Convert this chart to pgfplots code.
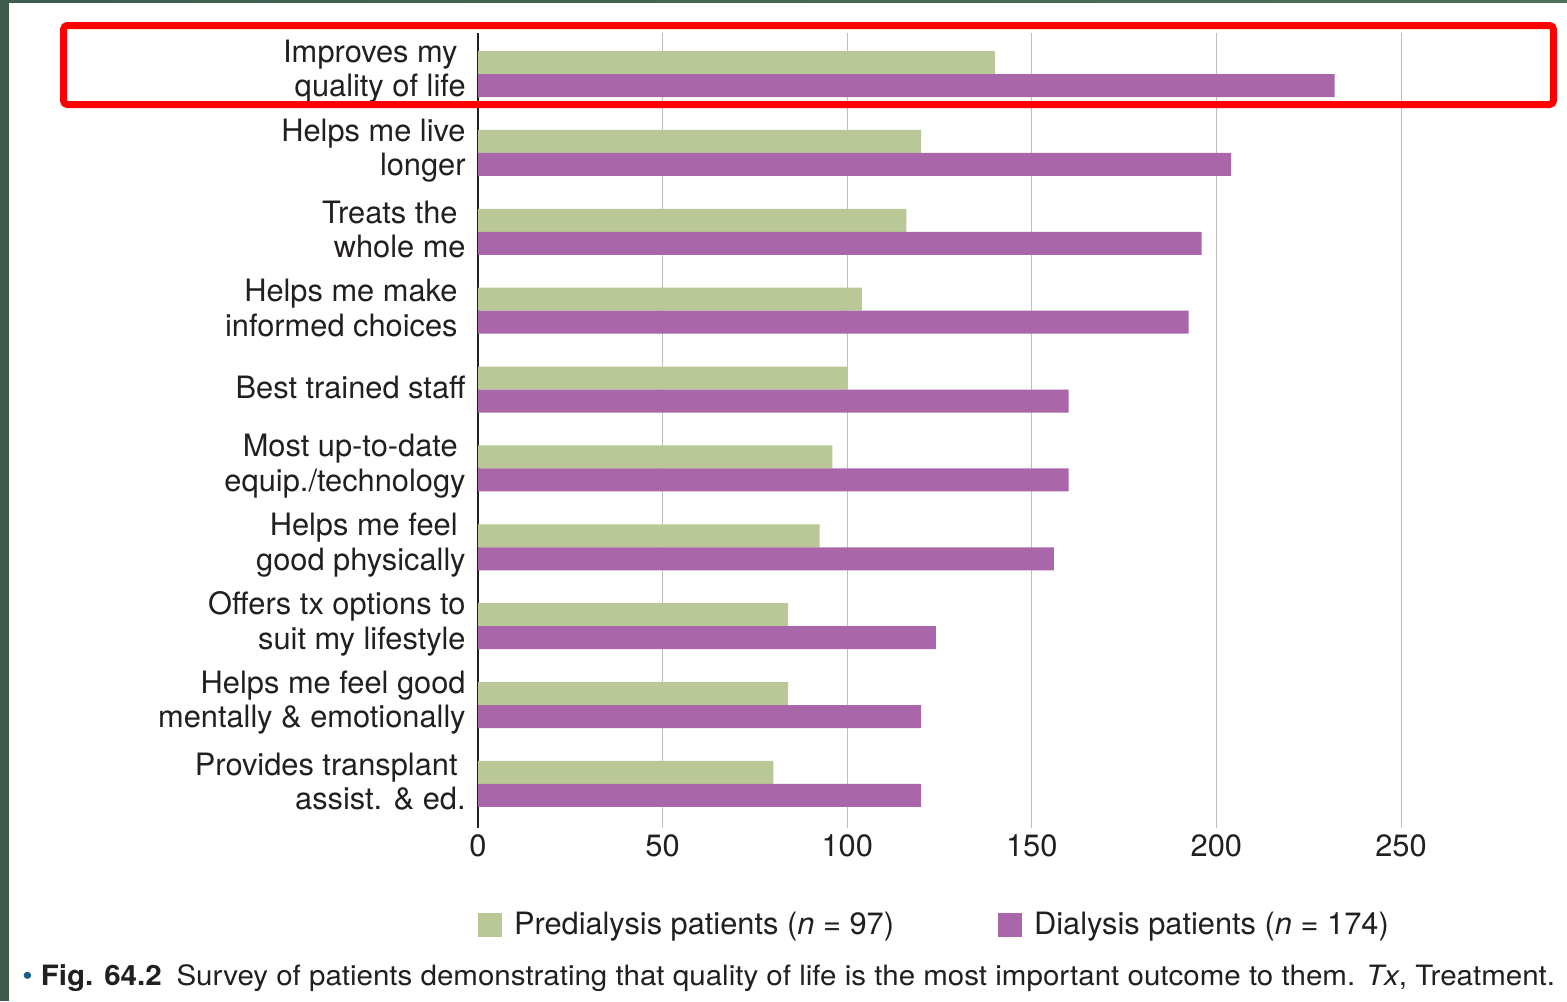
\documentclass[border=0pt]{standalone}
\usepackage{pgfplots}
\pgfplotsset{compat=1.18}
\usepackage{fontspec}
\setmainfont{TeX Gyre Heros}
\definecolor{barG}{RGB}{185,200,150}
\definecolor{barP}{RGB}{169,103,169}
\definecolor{txt}{RGB}{35,31,32}
\definecolor{bul}{RGB}{25,95,140}
\definecolor{frameD}{RGB}{62,92,78}
\definecolor{frameL}{RGB}{112,160,108}
\pgfplotsset{sqlegend/.style={legend image code/.code={\fill[##1] (0pt,-6pt) rectangle (12pt,6pt);}}}
\begin{document}
\begin{tikzpicture}[x=1pt,y=1pt]
\fill[frameD] (0,0) rectangle (783.5,-500.5);
\shade[left color=frameD, middle color=frameL, right color=frameD!70!frameL] (0,0) rectangle (783.5,-1.7);
\fill[white] (4.3,-1.7) rectangle (783.5,-500.5);
\begin{axis}[
  at={(239pt,-414pt)}, anchor=south west,
  scale only axis, width=461.5pt, height=397.5pt,
  xmin=0, xmax=250, ymin=0.442, ymax=10.52,
  xbar, bar width=11.5pt,
  axis lines*=left,
  x axis line style={draw=none},
  y axis line style={draw=txt, line width=1pt},
  xtick={0,50,...,250}, ytick={1,...,10},
  yticklabels={
    {Provides transplant\kern4pt\\assist. \& ed.},
    {Helps me feel good\\mentally \& emotionally},
    {Offers tx options to\\suit my lifestyle},
    {Helps me feel\kern4pt\\good physically},
    {Most up-to-date\kern4pt\\equip./technology},
    {Best trained staff},
    {Helps me make\kern4pt\\informed choices\kern4pt},
    {Treats the\kern4pt\\whole me},
    {Helps me live\\longer},
    {Improves my\kern4pt\\quality of life}},
  major tick length=0pt,
  xmajorgrids, major grid style={draw=black!25, line width=0.5pt},
  /pgf/number format/assume math mode=true,
  yticklabel style={font=\fontsize{15.4}{17.3}\selectfont, align=right, anchor=east, inner sep=0pt, xshift=-6pt, yshift=1.2pt, text=txt},
  xticklabel style={font=\fontsize{15.4}{17.3}\selectfont, anchor=north, inner sep=0pt, yshift=-3pt, text=txt},
  legend columns=2,
  legend style={at={(0,0)}, anchor=north west, yshift=-42pt, draw=none, fill=none, inner sep=0pt, outer sep=0pt,
    font=\fontsize{15.4}{17.3}\selectfont, text=txt, nodes={inner sep=0pt},
    /tikz/every even column/.append style={column sep=52pt},
    /tikz/every odd column/.append style={column sep=6pt},
    cells={anchor=west}},
]
\addplot[fill=barG, draw=none, bar shift=5.75pt, sqlegend]
  coordinates {(80,1) (84,2) (84,3) (92.5,4) (96,5) (100,6) (104,7) (116,8) (120,9) (140,10)};
\addlegendentry{Predialysis patients (\textit{n} = 97)}
\addplot[fill=barP, draw=none, bar shift=-5.75pt, sqlegend]
  coordinates {(120,1) (120,2) (124,3) (156,4) (160,5) (160,6) (192.5,7) (196,8) (204,9) (232,10)};
\addlegendentry{Dialysis patients (\textit{n} = 174)}
\end{axis}
\draw[red, line width=3.5pt, rounded corners=2pt] (31.75,-12.75) rectangle (776.75,-52.25);
\node[anchor=base west, inner sep=0pt, text=txt, font=\fontsize{14}{14}\selectfont] at (11,-492.5)
  {\scalebox{1.054}[1]{{\color{bul}\textbullet}\ \textbf{Fig. 64.2}\hspace{7pt}Survey of patients demonstrating that quality of life is the most important outcome to them. \textit{Tx}, Treatment.}};
\pgfresetboundingbox
\path[use as bounding box] (0,0) rectangle (783.5,-500.5);
\end{tikzpicture}
\end{document}
